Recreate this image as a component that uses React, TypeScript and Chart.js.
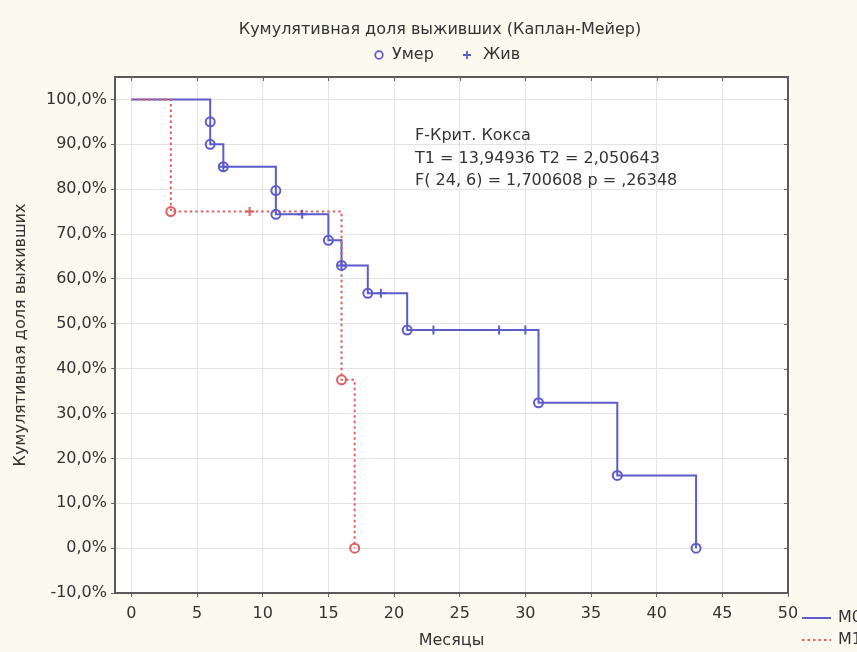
import React, { useEffect, useRef } from "react";
import { Chart, registerables } from "chart.js";

Chart.register(...registerables);

const TITLE = "Кумулятивная доля выживших (Каплан-Мейер)";
const X_TITLE = "Месяцы";
const Y_TITLE = "Кумулятивная доля выживших";
const EVENT_LABELS = ["Умер", "Жив"];
const GROUP_LABELS = ["M0", "M1"];
const STATS_TEXT = [
  "F-Крит. Кокса",
  "T1 = 13,94936 T2 = 2,050643",
  "F( 24, 6) = 1,700608 p = ,26348",
];

const xTicks = [0, 5, 10, 15, 20, 25, 30, 35, 40, 45, 50];
const yTicks = [-10, 0, 10, 20, 30, 40, 50, 60, 70, 80, 90, 100];

// Group M0 (blue) Kaplan-Meier step curve
const m0Months = [0, 6, 7, 11, 15, 16, 18, 21, 31, 37, 43];
const m0Survival = [100, 90, 85, 74.4, 68.6, 63, 56.8, 48.6, 32.4, 16.2, 0];
const m0DeathMonths = [6, 6, 7, 11, 11, 15, 16, 18, 21, 31, 37, 43];
const m0DeathSurvival = [95, 90, 85, 79.7, 74.4, 68.6, 63, 56.8, 48.6, 32.4, 16.2, 0];
const m0CensMonths = [7, 13, 16, 19, 23, 28, 30];
const m0CensSurvival = [85, 74.4, 63, 56.8, 48.6, 48.6, 48.6];

// Group M1 (red) Kaplan-Meier step curve
const m1Months = [0, 3, 16, 17];
const m1Survival = [100, 75, 37.5, 0];
const m1DeathMonths = [3, 16, 17];
const m1DeathSurvival = [75, 37.5, 0];
const m1CensMonths = [9];
const m1CensSurvival = [75];

const BLUE = "rgb(92,92,205)";
const RED = "rgb(222,96,100)";
const TEXT = "#333333";
const FONT = "DejaVu Sans";
const PAGE_BG = "#fcf9ee";

const pts = (xs: number[], ys: number[]) => xs.map((x, i) => ({ x, y: ys[i] }));

const decorPlugin = {
  id: "decor",
  beforeDraw(chart: any) {
    const { ctx, chartArea: a, width, height } = chart;
    ctx.save();
    ctx.fillStyle = PAGE_BG;
    ctx.fillRect(0, 0, width, height);
    ctx.fillStyle = "#ffffff";
    ctx.fillRect(a.left, a.top, a.right - a.left, a.bottom - a.top);
    ctx.restore();
  },
  afterDraw(chart: any) {
    const { ctx, chartArea: a } = chart;
    const xs = chart.scales.x;
    const ys = chart.scales.y;
    ctx.save();
    // frame
    ctx.strokeStyle = "#5a5a5a";
    ctx.lineWidth = 2;
    ctx.strokeRect(a.left, a.top, a.right - a.left, a.bottom - a.top);
    // mirror ticks top/right
    ctx.lineWidth = 1;
    ctx.strokeStyle = "#666";
    xTicks.forEach((v) => {
      const px = Math.round(xs.getPixelForValue(v)) + 0.5;
      ctx.beginPath();
      ctx.moveTo(px, a.top);
      ctx.lineTo(px, a.top + 4);
      ctx.stroke();
    });
    yTicks.forEach((v) => {
      const py = Math.round(ys.getPixelForValue(v)) + 0.5;
      ctx.beginPath();
      ctx.moveTo(a.right, py);
      ctx.lineTo(a.right - 4, py);
      ctx.stroke();
    });

    ctx.fillStyle = TEXT;
    ctx.font = `16px "${FONT}"`;
    ctx.textBaseline = "middle";
    ctx.textAlign = "center";
    ctx.fillText(TITLE, 440, 30);

    // top legend
    ctx.textAlign = "left";
    ctx.strokeStyle = BLUE;
    ctx.lineWidth = 1.8;
    ctx.beginPath();
    ctx.arc(379, 55, 3.8, 0, Math.PI * 2);
    ctx.stroke();
    ctx.fillText(EVENT_LABELS[0], 392, 55);
    ctx.beginPath();
    ctx.moveTo(463, 55);
    ctx.lineTo(471, 55);
    ctx.moveTo(467, 51);
    ctx.lineTo(467, 59);
    ctx.stroke();
    ctx.fillText(EVENT_LABELS[1], 483, 55);

    // stats annotation
    const tx = xs.getPixelForValue(21.6);
    const lineYs = [91.9, 86.8, 81.9];
    STATS_TEXT.forEach((t, i) => {
      ctx.fillText(t, tx, ys.getPixelForValue(lineYs[i]));
    });

    // bottom-right group legend
    ctx.lineWidth = 2;
    ctx.strokeStyle = BLUE;
    ctx.beginPath();
    ctx.moveTo(802, 618);
    ctx.lineTo(831, 618);
    ctx.stroke();
    ctx.strokeStyle = RED;
    ctx.setLineDash([2.5, 3]);
    ctx.beginPath();
    ctx.moveTo(802, 640);
    ctx.lineTo(831, 640);
    ctx.stroke();
    ctx.setLineDash([]);
    ctx.font = `16px "${FONT}"`;
    ctx.fillText(GROUP_LABELS[0], 838, 618);
    ctx.fillText(GROUP_LABELS[1], 838, 640);
    ctx.restore();
  },
};

export default function App() {
  const ref = useRef<HTMLCanvasElement | null>(null);
  useEffect(() => {
    if (!ref.current) return;
    const chart = new Chart(ref.current, {
      type: "scatter",
      data: {
        datasets: [
          {
            type: "line",
            label: "M1",
            data: pts(m1Months, m1Survival),
            stepped: true,
            borderColor: RED,
            borderWidth: 2,
            borderDash: [2.5, 3],
            pointRadius: 0,
            fill: false,
            order: 2,
          } as any,
          {
            type: "line",
            label: "M0",
            data: pts(m0Months, m0Survival),
            stepped: true,
            borderColor: BLUE,
            borderWidth: 2,
            pointRadius: 0,
            fill: false,
            order: 3,
          } as any,
          {
            label: "M0 Умер",
            data: pts(m0DeathMonths, m0DeathSurvival),
            pointStyle: "circle",
            pointRadius: 4.5,
            borderColor: BLUE,
            backgroundColor: "rgba(0,0,0,0)",
            borderWidth: 2,
            order: 1,
          },
          {
            label: "M0 Жив",
            data: pts(m0CensMonths, m0CensSurvival),
            pointStyle: "cross",
            pointRadius: 4.5,
            borderColor: BLUE,
            borderWidth: 2,
            order: 1,
          },
          {
            label: "M1 Умер",
            data: pts(m1DeathMonths, m1DeathSurvival),
            pointStyle: "circle",
            pointRadius: 4.5,
            borderColor: RED,
            backgroundColor: "rgba(0,0,0,0)",
            borderWidth: 2,
            order: 1,
          },
          {
            label: "M1 Жив",
            data: pts(m1CensMonths, m1CensSurvival),
            pointStyle: "cross",
            pointRadius: 4.5,
            borderColor: RED,
            borderWidth: 2,
            order: 1,
          },
        ],
      },
      options: {
        animation: false,
        responsive: true,
        maintainAspectRatio: false,
        layout: { padding: { left: 0, right: 69, top: 77, bottom: 0 } },
        plugins: {
          legend: { display: false },
          tooltip: { enabled: false },
          title: { display: false },
        },
        scales: {
          x: {
            type: "linear",
            min: -1.25,
            max: 50,
            afterFit: (s: any) => {
              s.height = 59;
            },
            afterBuildTicks: (s: any) => {
              s.ticks = xTicks.map((value) => ({ value }));
            },
            grid: { color: "#e4e4e4", tickColor: "#666", tickLength: 4, lineWidth: 1 },
            border: { display: false },
            ticks: {
              color: TEXT,
              font: { family: FONT, size: 16 },
              padding: 7,
              maxRotation: 0,
              autoSkip: false,
            },
            title: {
              display: true,
              text: X_TITLE,
              color: TEXT,
              font: { family: FONT, size: 16 },
              padding: { top: 0, bottom: 2 },
            },
          },
          y: {
            type: "linear",
            min: -10,
            max: 105,
            afterFit: (s: any) => {
              s.width = 115;
            },
            afterBuildTicks: (s: any) => {
              s.ticks = yTicks.map((value) => ({ value }));
            },
            grid: { color: "#e4e4e4", tickColor: "#666", tickLength: 4, lineWidth: 1 },
            border: { display: false },
            ticks: {
              color: TEXT,
              font: { family: FONT, size: 16 },
              padding: 4,
              callback: (v: any) => `${Number(v).toFixed(1).replace(".", ",")}%`,
            },
            title: {
              display: true,
              text: Y_TITLE,
              color: TEXT,
              font: { family: FONT, size: 16 },
              padding: { top: 11, bottom: 0 },
            },
          },
        },
      },
      plugins: [decorPlugin],
    });
    return () => chart.destroy();
  }, []);

  return (
    <div style={{ position: "absolute", left: 0, top: 0, width: 857, height: 652, background: PAGE_BG }}>
      <canvas ref={ref} />
    </div>
  );
}
